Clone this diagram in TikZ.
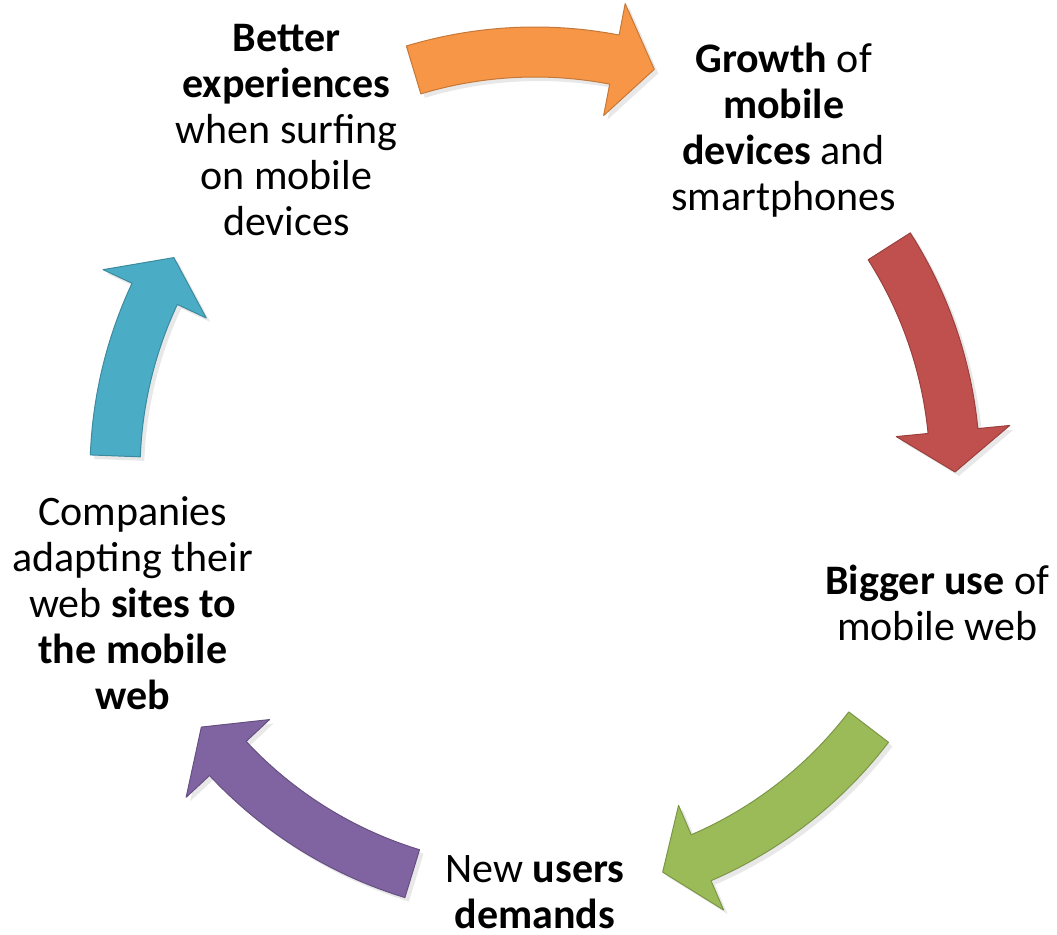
\documentclass[tikz,border=0pt]{standalone}
\usepackage{fontspec}
\setmainfont{Carlito}
\usetikzlibrary{shadows}
\tikzset{>=latex}
\definecolor{orangeA}{HTML}{F79646}
\definecolor{redA}{HTML}{C0504D}
\definecolor{greenA}{HTML}{9BBB59}
\definecolor{purpleA}{HTML}{8064A2}
\definecolor{aquaA}{HTML}{4BACC6}

\begin{document}
\begin{tikzpicture}[x=0.5pt,y=0.5pt,
    stage/.style={align=center,font=\fontsize{21}{23}\selectfont,inner sep=0pt},
    cyclearrow/.style={draw=#1!80!black,fill=#1,line width=0.5pt,line join=round,
      drop shadow={opacity=0.18,shadow xshift=2pt,shadow yshift=-2pt}}]
  \useasboundingbox (0,0) rectangle (1057,934);
  \coordinate (c) at (535,462);
  % arrows (tail angle / tip angle / colour)
  \foreach \ta/\tb/\col in {106.8/73.5/orangeA,32.5/0/redA,-37.4/-72.3/greenA,253/217.4/purpleA,177.8/149.3/aquaA} {
    \pgfmathsetmacro\tc{\tb+5.6}
    \path[cyclearrow=\col]
      ([shift={(\ta:445)}]c) arc[start angle=\ta,end angle=\tc,radius=445]
      -- ([shift={(\tc:477)}]c) -- ([shift={(\tb:420)}]c) -- ([shift={(\tc:363)}]c)
      -- ([shift={(\tc:395)}]c) arc[start angle=\tc,end angle=\ta,radius=395]
      -- cycle;
  }
  % labels
  \node[stage] (better)  at ([shift={(126:423)}]c) {\textbf{Better}\\\textbf{experiences}\\when surfing\\on mobile\\devices};
  \node[stage] (growth)  at ([shift={(54:423)}]c)  {\textbf{Growth} of\\\textbf{mobile}\\\textbf{devices} and\\smartphones};
  \node[stage] (bigger)  at ([shift={(-18:423)}]c) {\textbf{Bigger use} of\\mobile web};
  \node[stage] (demands) at ([shift={(-90:420)}]c) {New \textbf{users}\\\textbf{demands}};
  \node[stage] (adapt)   at ([shift={(198:423)}]c) {Companies\\adapting their\\web \textbf{sites to}\\\textbf{the mobile}\\\textbf{web}};
\end{tikzpicture}
\end{document}
